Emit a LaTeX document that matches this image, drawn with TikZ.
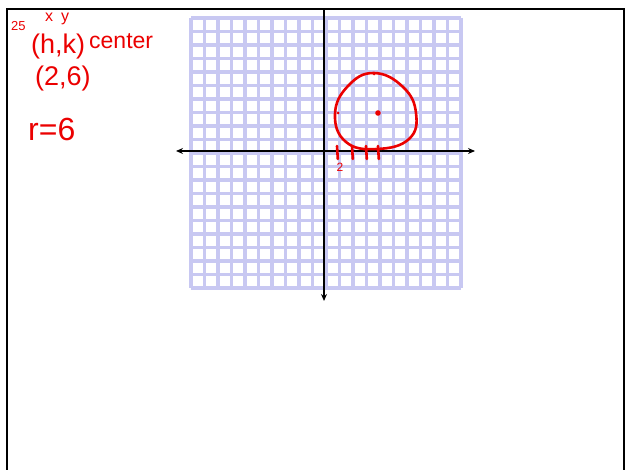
\documentclass[tikz,border=0pt]{standalone}
\usepackage{fontspec}
\setsansfont{Liberation Sans}
\usepackage{xcolor}
\usetikzlibrary{arrows.meta}
\definecolor{inkred}{RGB}{235,0,0}
\definecolor{gridblue}{RGB}{200,200,242}

\begin{document}
\begin{tikzpicture}[x=1pt, y=-1pt,
  gridline/.style={draw=gridblue, line width=3.2pt},
  axis/.style={line width=2pt},
  ink/.style={text=inkred, inner sep=0pt, anchor=west},
  pen/.style={draw=inkred, line width=2.6pt, line cap=round, line join=round}
]
\clip (0,0) rectangle (626,470);
% page frame
\draw[line width=2.6pt] (7,480) -- (7,9) -- (624,9) -- (624,480);
% graph paper, 20 x 20 cells
\foreach \i in {0,...,20} {
  \draw[gridline] (191+13.5*\i,18) -- (191+13.5*\i,288);
  \draw[gridline] (191,18+13.5*\i) -- (461,18+13.5*\i);
}
% axes
\coordinate (xl) at (176,151);
\coordinate (xr) at (475,151);
\coordinate (yt) at (324,9);
\coordinate (yb) at (324,301);
\draw[axis, {Stealth[length=7pt,width=6pt]}-{Stealth[length=7pt,width=6pt]}] (xl) -- (xr);
\draw[axis, -{Stealth[length=7pt,width=6pt]}] (yt) -- (yb);
% notes on the left
\node[ink, font=\sffamily\fontsize{13}{13}\selectfont] (n25) at (11,26) {25};
\node[ink, font=\sffamily\fontsize{16}{16}\selectfont] (nxy) at (45,19) {x\hspace{8pt}y};
\node[ink, font=\sffamily\fontsize{27}{27}\selectfont] (nhk) at (31,47) {(h,k)};
\node[ink, font=\sffamily\fontsize{23}{23}\selectfont] (ncenter) at (89,41) {center};
\node[ink, font=\sffamily\fontsize{27}{27}\selectfont] (npoint) at (35,79) {(2,6)};
\node[ink, font=\sffamily\fontsize{32}{32}\selectfont] (nr) at (28,129) {r=6};
% sketched circle
\draw[pen] plot[smooth cycle, tension=0.75] coordinates
  {(374,73) (403,87) (416,113) (409,139) (377,149) (346,142) (335,114) (348,86)};
\fill[inkred] (378,113) circle (2.8pt);
\fill[inkred] (338,113) circle (1.5pt);
\fill[inkred] (374,74) circle (1.5pt);
% tick marks on the x axis
\foreach \t in {337,352,366,378}
  \draw[pen] (\t,146) -- (\t+0.8,159);
\node[text=inkred, inner sep=0pt, font=\sffamily\fontsize{12}{12}\selectfont] (ntwo) at (340,167) {2};
\end{tikzpicture}
\end{document}
